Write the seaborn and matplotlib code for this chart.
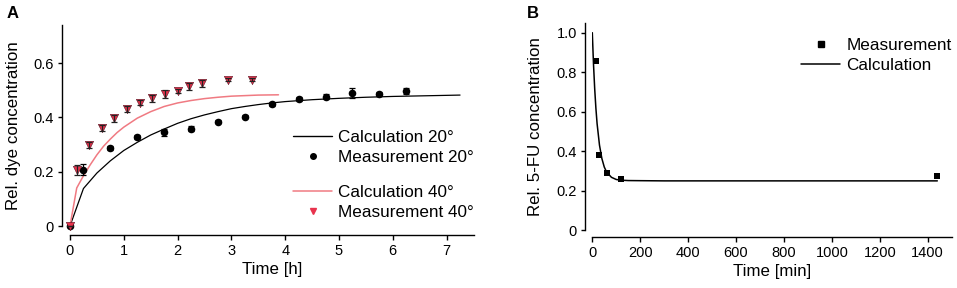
import numpy as np
import pandas as pd
import matplotlib
matplotlib.use("Agg")
import matplotlib.pyplot as plt
from matplotlib.lines import Line2D
import seaborn as sns

# ---------------- data: panel A ----------------
calc20_t = [0, 0.25, 0.5, 0.75, 1.0, 1.25, 1.5, 1.75, 2.0, 2.25, 2.5, 2.75, 3.0, 3.25,
            3.5, 3.75, 4.0, 4.5, 5.0, 5.5, 6.0, 6.5, 7.0, 7.25]
calc20_y = [0, 0.138, 0.195, 0.240, 0.278, 0.308, 0.335, 0.357, 0.378, 0.395, 0.409, 0.421,
            0.432, 0.440, 0.447, 0.453, 0.458, 0.465, 0.470, 0.474, 0.477, 0.479, 0.481, 0.482]

calc40_t = [0, 0.125, 0.25, 0.375, 0.5, 0.625, 0.75, 0.875, 1.0, 1.25, 1.5, 1.75, 2.0,
            2.25, 2.5, 2.75, 3.0, 3.25, 3.5, 3.875]
calc40_y = [0, 0.140, 0.185, 0.225, 0.262, 0.294, 0.320, 0.344, 0.364, 0.397, 0.421, 0.440,
            0.453, 0.462, 0.469, 0.474, 0.478, 0.480, 0.482, 0.483]

meas20_t = [0, 0.25, 0.75, 1.25, 1.75, 2.25, 2.75, 3.25, 3.75, 4.25, 4.75, 5.25, 5.75, 6.25]
meas20_y = [0, 0.207, 0.286, 0.327, 0.345, 0.358, 0.384, 0.403, 0.448, 0.468, 0.476, 0.489,
            0.486, 0.497]
meas20_err = [0, 0.020, 0.008, 0.008, 0.012, 0.010, 0.006, 0.006, 0.008, 0.008, 0.010,
              0.018, 0.008, 0.012]

meas40_t = [0, 0.13, 0.36, 0.59, 0.82, 1.06, 1.30, 1.53, 1.77, 2.0, 2.22, 2.46, 2.93, 3.39]
meas40_y = [0, 0.205, 0.298, 0.360, 0.396, 0.430, 0.454, 0.470, 0.487, 0.496, 0.514, 0.525,
            0.538, 0.538]
meas40_err = [0, 0.018, 0.010, 0.012, 0.012, 0.012, 0.010, 0.012, 0.014, 0.008, 0.012,
              0.012, 0.006, 0.006]

# ---------------- data: panel B ----------------
calcB_t = [0, 5, 10, 15, 20, 30, 40, 50, 60, 80, 100, 120, 150, 200, 300, 1440]
calcB_y = [1.0, 0.841, 0.716, 0.617, 0.539, 0.430, 0.362, 0.319, 0.293, 0.267, 0.256,
           0.2525, 0.2506, 0.250, 0.249, 0.249]
measB_t = [15, 30, 60, 120, 1440]
measB_y = [0.857, 0.379, 0.290, 0.258, 0.274]

# ---------------- style ----------------
sns.set_theme(style="ticks")
plt.rcParams["font.family"] = ["Liberation Sans", "DejaVu Sans"]
plt.rcParams["axes.linewidth"] = 1.0
plt.rcParams["xtick.major.width"] = 1.0
plt.rcParams["ytick.major.width"] = 1.0
plt.rcParams["xtick.major.size"] = 3.5
plt.rcParams["ytick.major.size"] = 3.0
plt.rcParams["xtick.labelsize"] = 10.5
plt.rcParams["ytick.labelsize"] = 10.5
plt.rcParams["xtick.color"] = "black"
plt.rcParams["ytick.color"] = "black"
plt.rcParams["xtick.labelcolor"] = "black"
plt.rcParams["ytick.labelcolor"] = "black"
plt.rcParams["text.color"] = "black"
plt.rcParams["axes.labelcolor"] = "black"
plt.rcParams["axes.edgecolor"] = "black"
plt.rcParams["xtick.major.pad"] = 3
plt.rcParams["ytick.major.pad"] = 3

W, H = 957, 288
fig = plt.figure(figsize=(W / 100, H / 100), dpi=100)

def px_axes(left, right, top, bottom):
    return fig.add_axes([left / W, 1 - bottom / H, (right - left) / W, (bottom - top) / H])

RED = "#e8334d"
RED_LINE = "#f07a82"

# ---------------- panel A ----------------
axA = px_axes(70, 473.5, 25, 226)
sns.lineplot(x=calc20_t, y=calc20_y, ax=axA, color="black", lw=0.9, label="_c20")
sns.lineplot(x=calc40_t, y=calc40_y, ax=axA, color=RED_LINE, lw=1.1, label="_c40")
axA.errorbar(meas20_t, meas20_y, yerr=meas20_err, fmt="none", ecolor="black",
             elinewidth=0.9, capsize=2.2, capthick=0.9, clip_on=False, zorder=3)
axA.errorbar(meas40_t, meas40_y, yerr=meas40_err, fmt="none", ecolor="#222222",
             elinewidth=0.9, capsize=2.2, capthick=0.9, clip_on=False, zorder=5)
sns.scatterplot(x=meas20_t, y=meas20_y, ax=axA, color="black", marker="o", s=30,
                edgecolor="black", linewidth=0, zorder=4, clip_on=False)
sns.scatterplot(x=meas40_t, y=meas40_y, ax=axA, color=RED, marker="v", s=36,
                edgecolor="#5a1020", linewidth=0.4, zorder=4, clip_on=False)
axA.set_xlim(0, 7.5)
axA.set_ylim(0, 0.74)
axA.set_xticks([0, 1, 2, 3, 4, 5, 6, 7])
axA.set_yticks([0, 0.2, 0.4, 0.6])
axA.set_yticklabels(["0", "0.2", "0.4", "0.6"])
sns.despine(ax=axA)
axA.spines["left"].set_position(("outward", 5.8))
axA.spines["bottom"].set_position(("outward", 6.5))
axA.set_xlabel("Time [h]", fontsize=12.2, labelpad=3)
axA.set_ylabel("Rel. dye concentration", fontsize=12.2, labelpad=9)

hA1 = [Line2D([], [], color="black", lw=1.0),
       Line2D([], [], color="black", marker="o", ls="none", markersize=4)]
hA2 = [Line2D([], [], color=RED_LINE, lw=1.1),
       Line2D([], [], color=RED, marker="v", ls="none", markersize=4.5)]
legA1 = axA.legend(hA1, ["Calculation 20°", "Measurement 20°"], loc="upper left",
                   bbox_to_anchor=((293 - 70) / 403.5, (226 - 130) / 201), frameon=False,
                   fontsize=12.3, handlelength=2.3, handletextpad=0.35, borderpad=0,
                   borderaxespad=0, labelspacing=0.32)
axA.add_artist(legA1)
axA.legend(hA2, ["Calculation 40°", "Measurement 40°"], loc="upper left",
           bbox_to_anchor=((293 - 70) / 403.5, (226 - 185) / 201), frameon=False,
           fontsize=12.3, handlelength=2.3, handletextpad=0.35, borderpad=0,
           borderaxespad=0, labelspacing=0.32)

# ---------------- panel B ----------------
axB = px_axes(592.3, 951.7, 23.3, 230)
sns.lineplot(x=calcB_t, y=calcB_y, ax=axB, color="black", lw=1.1, label="_cB")
sns.scatterplot(x=measB_t, y=measB_y, ax=axB, color="black", marker="s", s=22,
                linewidth=0, zorder=4, clip_on=False)
axB.set_xlim(0, 1500)
axB.set_ylim(0, 1.0477)
axB.set_xticks([0, 200, 400, 600, 800, 1000, 1200, 1400])
axB.set_yticks([0, 0.2, 0.4, 0.6, 0.8, 1.0])
axB.set_yticklabels(["0", "0.2", "0.4", "0.6", "0.8", "1.0"])
sns.despine(ax=axB)
axB.spines["left"].set_position(("outward", 5.0))
axB.spines["bottom"].set_position(("outward", 5.0))
axB.set_xlabel("Time [min]", fontsize=12.2, labelpad=3)
axB.set_ylabel("Rel. 5-FU concentration", fontsize=12.2, labelpad=10)

hB = [Line2D([], [], color="black", marker="s", ls="none", markersize=4),
      Line2D([], [], color="black", lw=1.1)]
axB.legend(hB, ["Measurement", "Calculation"], loc="upper left",
           bbox_to_anchor=((801 - 592.3) / 359.4, (230 - 38) / 206.7), frameon=False,
           fontsize=12.3, handlelength=2.3, handletextpad=0.35, borderpad=0,
           borderaxespad=0, labelspacing=0.32)

fig.text(13 / W, 1 - 13 / H, "A", fontsize=12, fontweight="bold", ha="center", va="center")
fig.text(533 / W, 1 - 13 / H, "B", fontsize=12, fontweight="bold", ha="center", va="center")

fig.savefig("out.png", dpi=100)
